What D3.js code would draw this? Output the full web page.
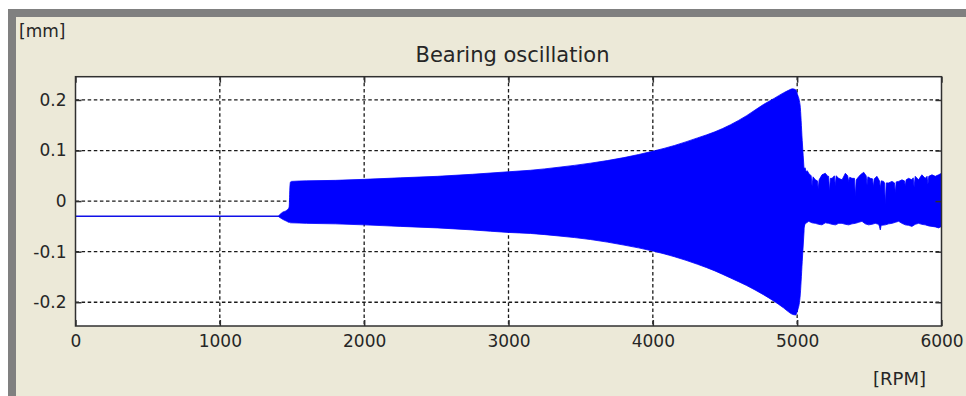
<!DOCTYPE html>
<html>
<head>
<meta charset="utf-8">
<script src="https://cdn.jsdelivr.net/npm/d3@7"></script>
<style>
  html, body { margin: 0; padding: 0; background: #ffffff; }
  svg { display: block; }
  text { font-family: "DejaVu Sans", "Liberation Sans", sans-serif; fill: #262626; }
</style>
</head>
<body>
<svg id="chart" width="966" height="396"></svg>
<script>
// ---------------- data ----------------
const titleText = "Bearing oscillation";
const yUnit = "[mm]";
const xUnit = "[RPM]";
const xTicks = [0, 1000, 2000, 3000, 4000, 5000, 6000];
const yTicks = [-0.2, -0.1, 0, 0.1, 0.2];
const yTickLabels = ["-0.2", "-0.1", "0", "0.1", "0.2"];

// flat signal before the run-up (rpm, mm)
const flatRpm = [0, 1412];
const flatVal = [-0.030, -0.030];

// main envelope of the oscillation (rpm, upper / lower extreme in mm)
const envRpm   = [1408, 1435, 1464, 1480, 1486, 1490, 1498, 1600, 1800, 2000, 2250, 2510, 2750, 3000, 3153, 3350, 3568, 3800, 4005, 4150, 4310, 4430, 4538, 4650, 4766, 4840, 4905, 4940, 4967, 4990, 5002, 5020, 5035, 5048];
const envUpper = [-0.029, -0.022, -0.018, -0.012, 0.030, 0.038, 0.039, 0.040, 0.041, 0.043, 0.046, 0.049, 0.053, 0.058, 0.061, 0.067, 0.075, 0.086, 0.099, 0.110, 0.125, 0.137, 0.151, 0.169, 0.191, 0.203, 0.214, 0.219, 0.222, 0.220, 0.211, 0.190, 0.120, 0.062];
const envLower = [-0.031, -0.036, -0.040, -0.042, -0.042, -0.043, -0.043, -0.044, -0.045, -0.047, -0.050, -0.053, -0.057, -0.062, -0.064, -0.069, -0.076, -0.087, -0.099, -0.110, -0.125, -0.138, -0.152, -0.167, -0.185, -0.198, -0.211, -0.219, -0.224, -0.225, -0.217, -0.190, -0.120, -0.058];

// after the resonance: noisy band, upper edge
const noiseTopRpm = [5040, 5055, 5062, 5070, 5080, 5090, 5097, 5103, 5110, 5126, 5140, 5146, 5152, 5172, 5195, 5212, 5218, 5224, 5230, 5242, 5258, 5264, 5270, 5288, 5311, 5334, 5350, 5357, 5364, 5380, 5397, 5403, 5409, 5420, 5438, 5461, 5478, 5484, 5490, 5507, 5522, 5528, 5534, 5553, 5570, 5576, 5582, 5599, 5605, 5611, 5617, 5634, 5657, 5674, 5680, 5686, 5703, 5726, 5743, 5749, 5755, 5772, 5795, 5804, 5810, 5818, 5841, 5864, 5887, 5900, 5906, 5912, 5934, 5957, 5980, 6000];
const noiseTop    = [0.062, 0.066, 0.058, 0.060, 0.055, 0.052, 0.050, 0.030, 0.048, 0.042, 0.040, 0.024, 0.042, 0.052, 0.055, 0.049, 0.049, 0.019, 0.045, 0.045, 0.050, 0.030, 0.050, 0.045, 0.042, 0.055, 0.050, 0.039, 0.047, 0.045, 0.045, 0.009, 0.042, 0.046, 0.052, 0.057, 0.050, 0.032, 0.048, 0.045, 0.044, 0.028, 0.044, 0.049, 0.040, 0.026, 0.040, 0.039, 0.036, -0.007, 0.036, 0.036, 0.039, 0.036, 0.016, 0.038, 0.039, 0.042, 0.040, 0.030, 0.042, 0.045, 0.042, 0.046, 0.028, 0.049, 0.042, 0.052, 0.045, 0.049, 0.033, 0.049, 0.052, 0.049, 0.052, 0.055];
// noisy band, lower edge
const noiseBotRpm = [5040, 5055, 5080, 5103, 5126, 5149, 5172, 5195, 5218, 5242, 5265, 5288, 5311, 5334, 5357, 5380, 5403, 5426, 5449, 5472, 5495, 5518, 5541, 5564, 5570, 5576, 5582, 5611, 5634, 5657, 5680, 5703, 5726, 5749, 5772, 5795, 5818, 5841, 5864, 5887, 5911, 5934, 5957, 5980, 6000];
const noiseBot    = [-0.058, -0.045, -0.040, -0.043, -0.044, -0.046, -0.047, -0.043, -0.044, -0.046, -0.047, -0.044, -0.044, -0.046, -0.047, -0.045, -0.044, -0.042, -0.040, -0.045, -0.047, -0.046, -0.044, -0.046, -0.050, -0.057, -0.048, -0.047, -0.045, -0.044, -0.042, -0.040, -0.044, -0.047, -0.048, -0.050, -0.046, -0.044, -0.046, -0.047, -0.049, -0.050, -0.051, -0.053, -0.050];

// ---------------- drawing ----------------
const svg = d3.select("#chart");
const W = 966, H = 396;

// window frame
svg.append("rect").attr("x", 0).attr("y", 0).attr("width", W).attr("height", H).attr("fill", "#ffffff");
svg.append("rect").attr("x", 8).attr("y", 9).attr("width", W - 8).attr("height", H - 9).attr("fill", "#808080");
svg.append("rect").attr("x", 16).attr("y", 17).attr("width", W - 16).attr("height", H - 17).attr("fill", "#ece9d8");

const plot = { left: 75.5, right: 941.5, top: 76.7, bottom: 326 };

const x = d3.scaleLinear().domain([0, 6000]).range([plot.left, plot.right]);
const y = d3.scaleLinear().domain([-0.247, 0.246]).range([plot.bottom, plot.top]);

// plot background
svg.append("rect")
  .attr("x", plot.left).attr("y", plot.top)
  .attr("width", plot.right - plot.left).attr("height", plot.bottom - plot.top)
  .attr("fill", "#ffffff");

// grid
const grid = svg.append("g").attr("stroke", "#1a1a1a").attr("stroke-width", 1.3).attr("stroke-dasharray", "3.5,2.6");
grid.selectAll("line.v").data(xTicks.filter(t => t > 0 && t < 6000)).join("line")
  .attr("x1", d => x(d)).attr("x2", d => x(d))
  .attr("y1", plot.top).attr("y2", plot.bottom);
grid.selectAll("line.h").data(yTicks).join("line")
  .attr("y1", d => y(d)).attr("y2", d => y(d))
  .attr("x1", plot.left).attr("x2", plot.right);

const blue = "#0000ff";

// flat part
svg.append("path")
  .attr("d", d3.line().x(d => x(d[0])).y(d => y(d[1]))(flatRpm.map((r, i) => [r, flatVal[i]])))
  .attr("fill", "none").attr("stroke", "#1010e8").attr("stroke-width", 1.4);

// growing envelope
const envData = envRpm.map((r, i) => ({ r, u: envUpper[i], l: envLower[i] }));
svg.append("path")
  .attr("d", d3.area().curve(d3.curveMonotoneX)
    .x(d => x(d.r)).y0(d => y(d.l)).y1(d => y(d.u))(envData))
  .attr("fill", blue).attr("stroke", blue).attr("stroke-width", 0.8);

// noisy band after resonance
const topPts = noiseTopRpm.map((r, i) => [r, noiseTop[i]]);
const botPts = noiseBotRpm.map((r, i) => [r, noiseBot[i]]).reverse();
const line = d3.line().x(d => x(d[0])).y(d => y(d[1]));
svg.append("path")
  .attr("d", line(topPts.concat(botPts)) + "Z")
  .attr("fill", blue).attr("stroke", blue).attr("stroke-width", 0.8);

// axes (ticks pointing inward)
const axisColor = "#303030";
const fmtY = d => yTickLabels[yTicks.indexOf(d)];

const gx = svg.append("g").attr("transform", `translate(0,${plot.bottom})`)
  .call(d3.axisBottom(x).tickValues(xTicks).tickSizeInner(-6).tickSizeOuter(0).tickPadding(9).tickFormat(d3.format("d")));
const gxTop = svg.append("g").attr("transform", `translate(0,${plot.top})`)
  .call(d3.axisTop(x).tickValues(xTicks).tickSizeInner(-6).tickSizeOuter(0).tickFormat(""));
const gy = svg.append("g").attr("transform", `translate(${plot.left},0)`)
  .call(d3.axisLeft(y).tickValues(yTicks).tickSizeInner(-6).tickSizeOuter(0).tickPadding(9).tickFormat(fmtY));
const gyR = svg.append("g").attr("transform", `translate(${plot.right},0)`)
  .call(d3.axisRight(y).tickValues(yTicks).tickSizeInner(-6).tickSizeOuter(0).tickFormat(""));

[gx, gxTop, gy, gyR].forEach(g => {
  g.select(".domain").remove();
  g.selectAll(".tick line").attr("stroke", axisColor).attr("stroke-width", 1.5);
  g.selectAll(".tick text").attr("font-family", "DejaVu Sans, Liberation Sans, sans-serif")
    .attr("font-size", 17).attr("fill", "#262626");
});

// plot frame
svg.append("rect")
  .attr("x", plot.left).attr("y", plot.top)
  .attr("width", plot.right - plot.left).attr("height", plot.bottom - plot.top)
  .attr("fill", "none").attr("stroke", axisColor).attr("stroke-width", 1.5);

// titles
svg.append("text").attr("x", (plot.left + plot.right) / 2 + 4).attr("y", 62)
  .attr("text-anchor", "middle").attr("font-size", 21).text(titleText);
svg.append("text").attr("x", 19).attr("y", 37).attr("font-size", 17).text(yUnit);
svg.append("text").attr("x", 926).attr("y", 385).attr("text-anchor", "end").attr("font-size", 18).text(xUnit);
</script>
</body>
</html>
